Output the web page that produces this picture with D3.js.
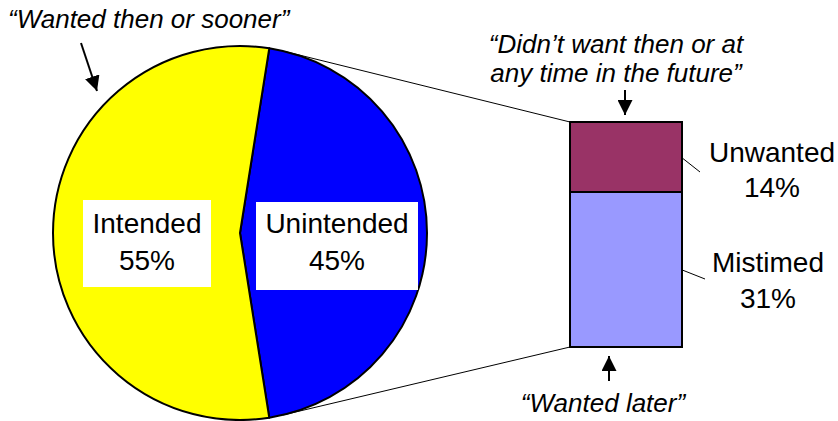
<!DOCTYPE html>
<html>
<head>
<meta charset="utf-8">
<script src="https://cdn.jsdelivr.net/npm/d3@7"></script>
<style>
  body { margin: 0; background: #fff; }
  text { font-family: Arial, "Liberation Sans", sans-serif; fill: #000; }
  .note { font-style: italic; font-size: 26px; }
  .lbl { font-size: 28px; }
</style>
</head>
<body>
<div id="chart"></div>
<script>
// pie: intended vs unintended
var pieCats = ["Unintended", "Intended"];
var pieVals = [45, 55];
var pieColors = ["#0000ff", "#ffff00"];
// bar: breakdown of unintended
var barCats = ["Mistimed", "Unwanted"];
var barVals = [31, 14];
var barColors = ["#9999ff", "#993366"];

var svgWidth = 838, svgHeight = 421;
var svg = d3.select("#chart").append("svg")
    .attr("width", svgWidth)
    .attr("height", svgHeight);

// arrow head
svg.append("defs").append("marker")
    .attr("id", "head")
    .attr("viewBox", "0 0 10 10")
    .attr("refX", 10).attr("refY", 5)
    .attr("markerWidth", 7.5).attr("markerHeight", 7.5)
    .attr("markerUnits", "strokeWidth")
    .attr("orient", "auto")
  .append("path")
    .attr("d", "M0,0 L10,5 L0,10 Z")
    .attr("fill", "#000");

var cx = 240, cy = 233, r = 187;

// ** bar scale **
var barX = 570, barW = 112;
var yScale = d3.scaleLinear()
    .domain([0, d3.sum(barVals)])
    .range([347, 122]);

// connector lines, tangent to the pie
function tangent(px, py, side) {
  var dx = px - cx, dy = py - cy;
  var d = Math.sqrt(dx * dx + dy * dy);
  var a = Math.atan2(dy, dx) + side * Math.acos(r / d);
  return [cx + r * Math.cos(a), cy + r * Math.sin(a)];
}
var topY = yScale(d3.sum(barVals)), botY = yScale(0);
var t1 = tangent(barX, topY, -1), t2 = tangent(barX, botY, 1);
svg.append("line").attr("x1", t1[0]).attr("y1", t1[1]).attr("x2", barX).attr("y2", topY)
    .attr("stroke", "#000").attr("stroke-width", 1);
svg.append("line").attr("x1", t2[0]).attr("y1", t2[1]).attr("x2", barX).attr("y2", botY)
    .attr("stroke", "#000").attr("stroke-width", 1);

// ** pie **
var start = 9.0 * Math.PI / 180;
var pie = d3.pie().sort(null).startAngle(start).endAngle(start + 2 * Math.PI);
var arc = d3.arc().innerRadius(0).outerRadius(r);
var g = svg.append("g").attr("transform", `translate(${cx},${cy})`);
g.selectAll("path")
    .data(pie(pieVals))
    .enter()
    .append("path")
    .attr("d", arc)
    .attr("fill", (d, i) => pieColors[i])
    .attr("stroke", "#000")
    .attr("stroke-width", 2)
    .attr("stroke-linejoin", "round");

// pie labels in white boxes
var boxes = [
  {x: 256, y: 202, w: 162, h: 88},  // Unintended
  {x: 83, y: 200, w: 128, h: 87}    // Intended
];
pieCats.forEach(function(c, i) {
  var b = boxes[i];
  svg.append("rect").attr("x", b.x).attr("y", b.y).attr("width", b.w).attr("height", b.h)
      .attr("fill", "#fff");
  var t = svg.append("text").attr("class", "lbl").attr("text-anchor", "middle");
  t.append("tspan").attr("x", b.x + b.w / 2).attr("y", 233).text(c);
  t.append("tspan").attr("x", b.x + b.w / 2).attr("y", 270).text(pieVals[i] + "%");
});

// ** stacked bar **
var stacked = d3.cumsum(barVals);
svg.selectAll(".seg")
    .data(barVals)
    .enter()
    .append("rect")
    .attr("class", "seg")
    .attr("x", barX)
    .attr("width", barW)
    .attr("y", (d, i) => yScale(stacked[i]))
    .attr("height", d => yScale(0) - yScale(d))
    .attr("fill", (d, i) => barColors[i])
    .attr("stroke", "#000")
    .attr("stroke-width", 2);

// bar labels with leader lines
var barLbl = [
  {x: 768, y1: 272, y2: 308, lx: 705, ly: 279},
  {x: 772, y1: 162, y2: 197, lx: 700, ly: 172}
];
barCats.forEach(function(c, i) {
  var L = barLbl[i];
  var my = yScale(stacked[i] - barVals[i] / 2);
  svg.append("line").attr("x1", barX + barW - 1).attr("y1", my)
      .attr("x2", L.lx).attr("y2", L.ly)
      .attr("stroke", "#000").attr("stroke-width", 1);
  var t = svg.append("text").attr("class", "lbl").attr("text-anchor", "middle");
  t.append("tspan").attr("x", L.x).attr("y", L.y1).text(c);
  t.append("tspan").attr("x", L.x).attr("y", L.y2).text(barVals[i] + "%");
});

// ** annotations **
svg.append("text").attr("class", "note").attr("x", 8).attr("y", 28)
    .text("\u201cWanted then or sooner\u201d");
svg.append("line").attr("x1", 81).attr("y1", 43).attr("x2", 97).attr("y2", 91)
    .attr("stroke", "#000").attr("stroke-width", 2).attr("marker-end", "url(#head)");

var topNote = svg.append("text").attr("class", "note").attr("text-anchor", "middle");
topNote.append("tspan").attr("x", 616).attr("y", 53).text("\u201cDidn\u2019t want then or at");
topNote.append("tspan").attr("x", 616).attr("y", 82).text("any time in the future\u201d");
svg.append("line").attr("x1", 625).attr("y1", 90).attr("x2", 625).attr("y2", 115)
    .attr("stroke", "#000").attr("stroke-width", 2).attr("marker-end", "url(#head)");

svg.append("line").attr("x1", 609).attr("y1", 381).attr("x2", 609).attr("y2", 356)
    .attr("stroke", "#000").attr("stroke-width", 2).attr("marker-end", "url(#head)");
svg.append("text").attr("class", "note").attr("text-anchor", "middle")
    .attr("x", 603).attr("y", 412).text("\u201cWanted later\u201d");
</script>
</body>
</html>
